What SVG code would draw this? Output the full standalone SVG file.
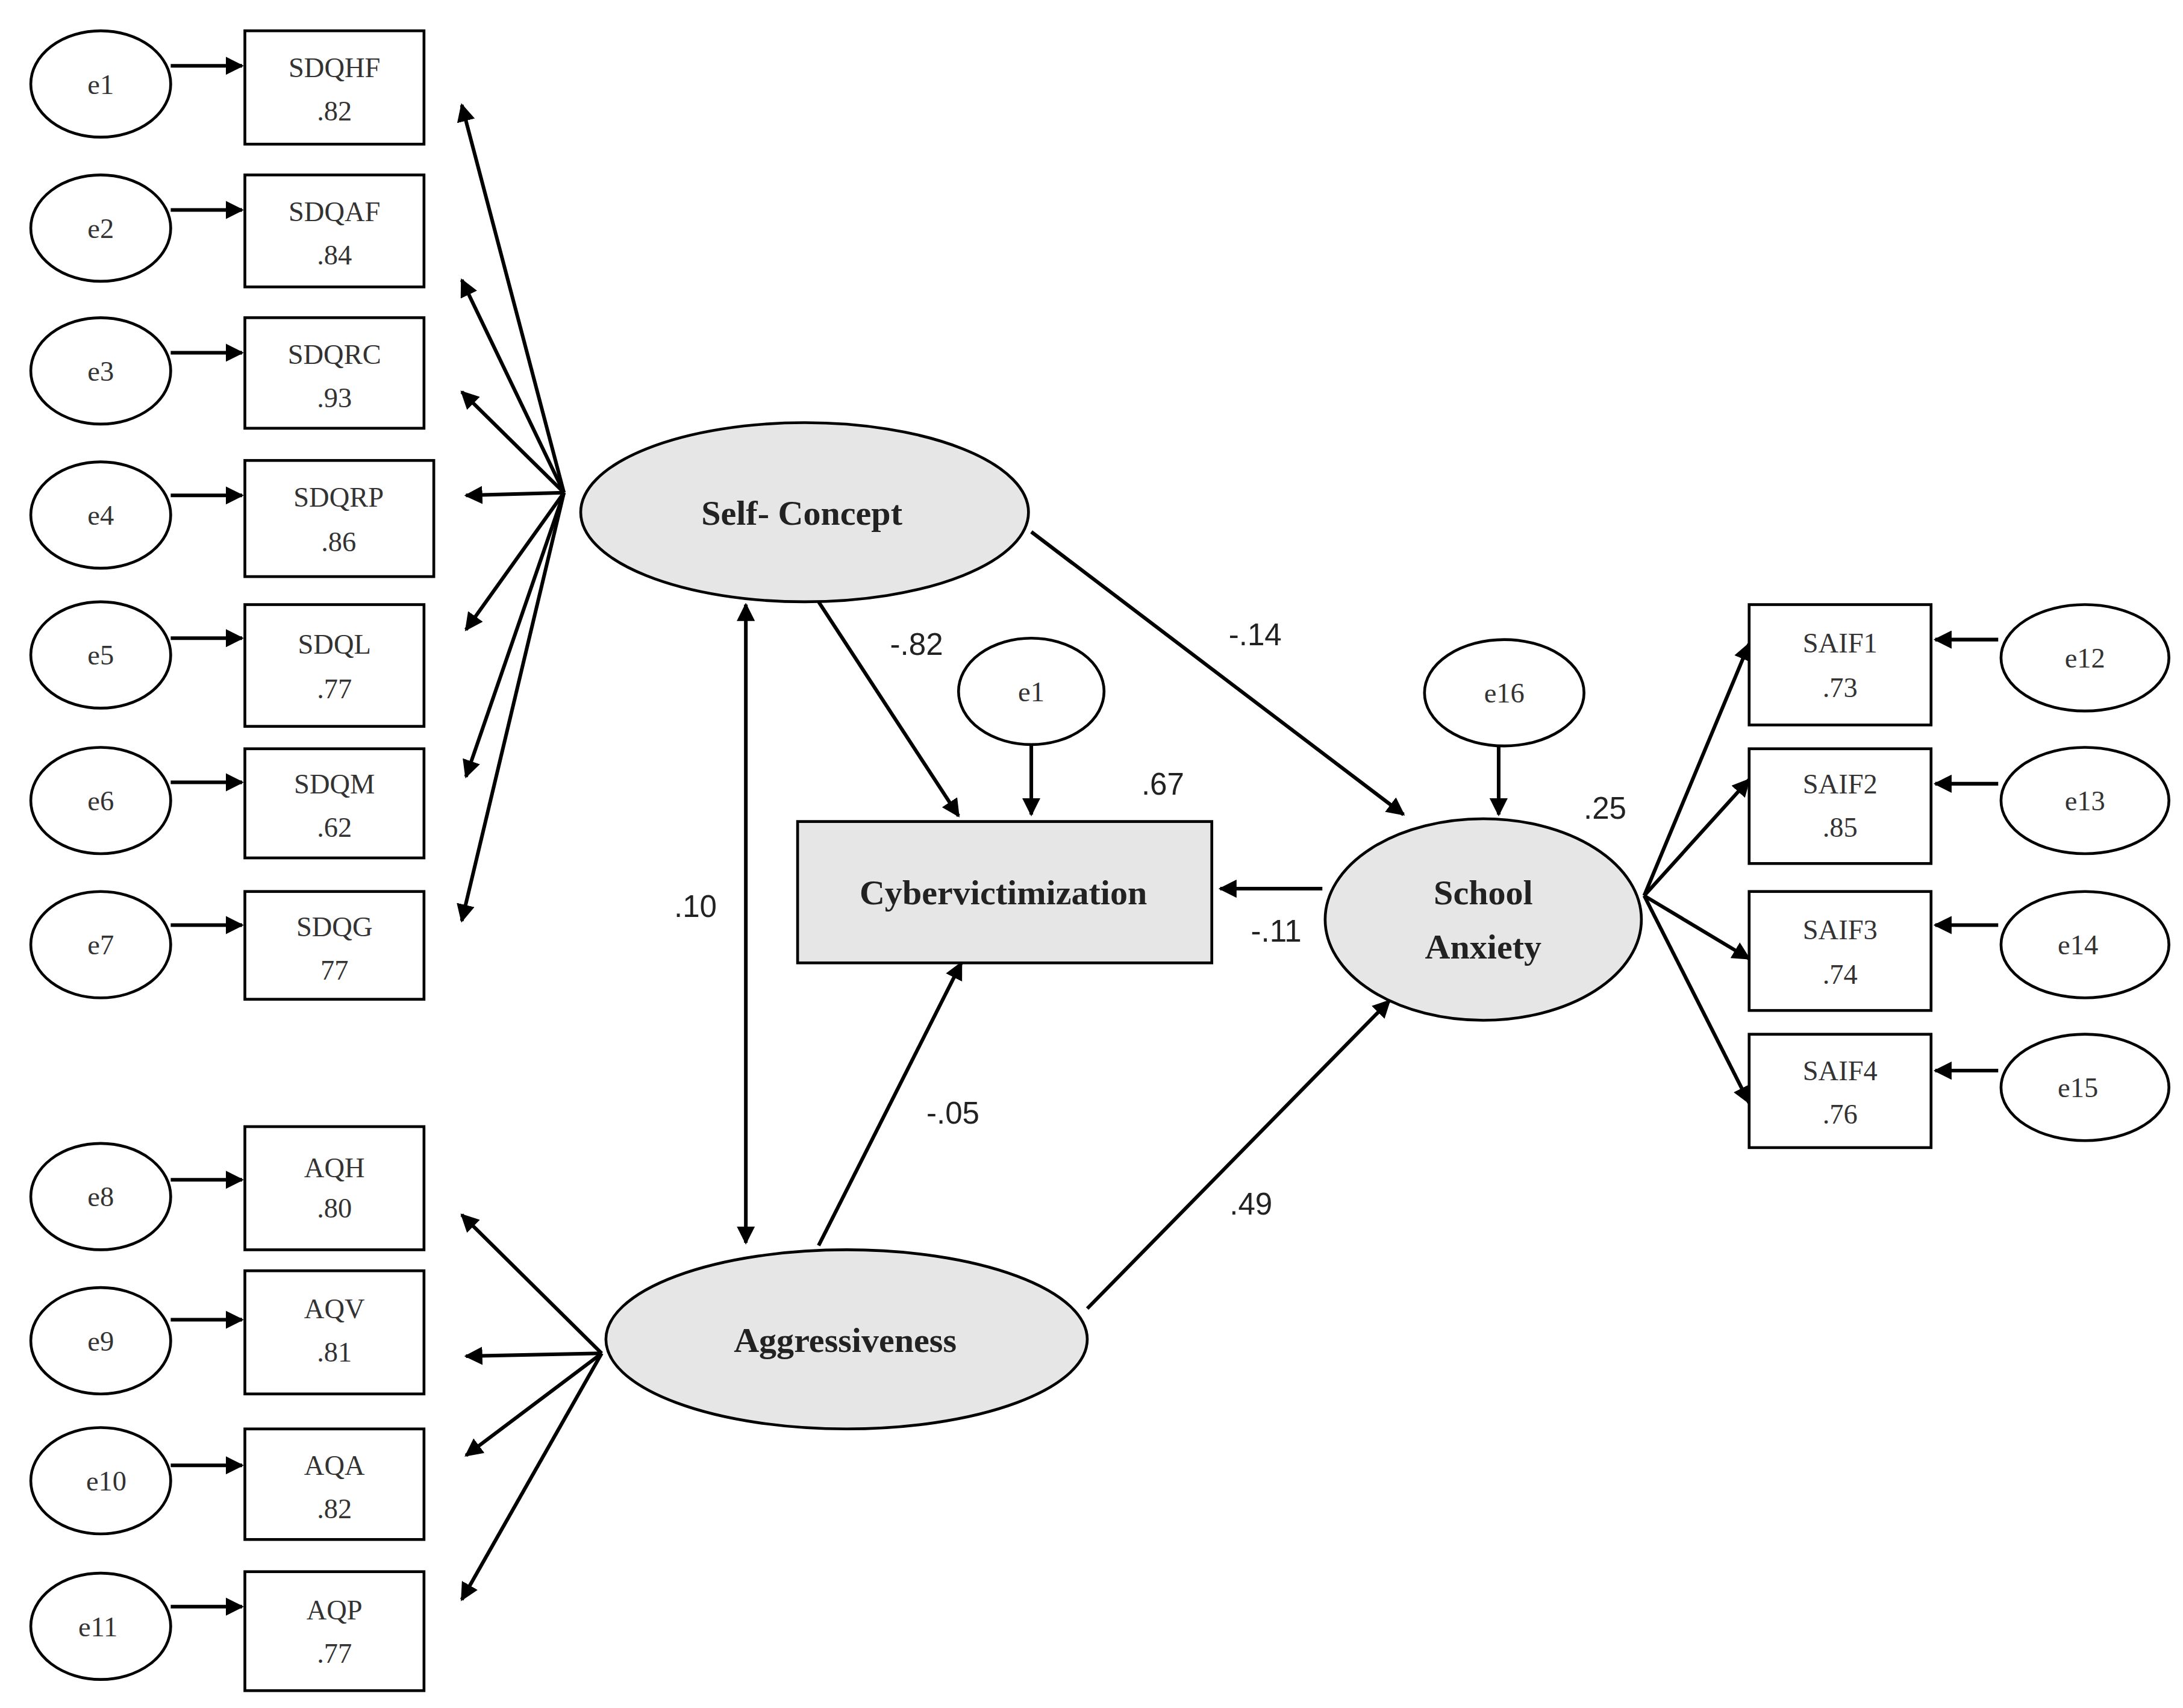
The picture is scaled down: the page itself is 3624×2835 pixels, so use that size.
<svg xmlns="http://www.w3.org/2000/svg" width="3624" height="2835" viewBox="0 0 3624 2835">
<defs>
<marker id="a" viewBox="0 0 10 10" refX="9" refY="5" markerWidth="5" markerHeight="5" orient="auto-start-reverse" markerUnits="strokeWidth"><path d="M0,0 L10,5 L0,10 z" fill="#000"/></marker>
<style>
.e{fill:#fff;stroke:#000;stroke-width:2}
.b{fill:#fff;stroke:#000;stroke-width:2}
.g{fill:#e6e6e6;stroke:#000;stroke-width:2}
.t{font-family:"Liberation Serif",serif;font-size:20px;text-anchor:middle;fill:#333}
.L{font-family:"Liberation Serif",serif;font-size:25px;font-weight:bold;text-anchor:middle;fill:#222}
.n{font-family:"Liberation Sans",sans-serif;font-size:22px;text-anchor:middle;fill:#222}
.c line{stroke:#000;stroke-width:2.6;marker-end:url(#a)}
</style>
</defs>
<rect width="3624" height="2835" fill="#fff"/>
<g transform="scale(2.323)">
<g class="c" id="connectors">
<line x1="122" y1="47" x2="173" y2="47"/><line x1="122" y1="150" x2="173" y2="150"/><line x1="122" y1="252" x2="173" y2="252"/><line x1="122" y1="354" x2="173" y2="354"/><line x1="122" y1="456" x2="173" y2="456"/><line x1="122" y1="559" x2="173" y2="559"/><line x1="122" y1="661" x2="173" y2="661"/>
<line x1="122" y1="843" x2="173" y2="843"/><line x1="122" y1="943" x2="173" y2="943"/><line x1="122" y1="1047" x2="173" y2="1047"/><line x1="122" y1="1148" x2="173" y2="1148"/>
<line x1="403" y1="352" x2="330" y2="75"/><line x1="403" y1="352" x2="330" y2="200"/><line x1="403" y1="352" x2="330" y2="280"/><line x1="403" y1="352" x2="333" y2="354"/><line x1="403" y1="352" x2="333" y2="450"/><line x1="403" y1="352" x2="333" y2="555"/><line x1="403" y1="352" x2="330" y2="658"/>
<line x1="430" y1="967" x2="330" y2="868"/><line x1="430" y1="967" x2="333" y2="969"/><line x1="430" y1="967" x2="333" y2="1040"/><line x1="430" y1="967" x2="330" y2="1143"/>
<line x1="737" y1="532" x2="737" y2="582"/><line x1="1071" y1="533" x2="1071" y2="582"/>
<line x1="1428" y1="457" x2="1383" y2="457"/><line x1="1428" y1="560" x2="1383" y2="560"/><line x1="1428" y1="661" x2="1383" y2="661"/><line x1="1428" y1="765" x2="1383" y2="765"/>
<line x1="1175" y1="640" x2="1250" y2="460"/><line x1="1175" y1="640" x2="1250" y2="557"/><line x1="1175" y1="640" x2="1250" y2="685"/><line x1="1175" y1="640" x2="1250" y2="788"/>
<line x1="585" y1="430" x2="685" y2="583"/><line x1="737" y1="380" x2="1003" y2="582"/><line x1="585" y1="890" x2="687" y2="688"/><line x1="777" y1="935" x2="993" y2="715"/><line x1="945" y1="635" x2="872" y2="635"/>
<line x1="533" y1="432" x2="533" y2="888" style="marker-start:url(#a)"/>
</g>
<g id="errors">
<ellipse class="e" cx="72" cy="60" rx="50" ry="38"/><text class="t" x="72" y="67">e1</text>
<ellipse class="e" cx="72" cy="163" rx="50" ry="38"/><text class="t" x="72" y="170">e2</text>
<ellipse class="e" cx="72" cy="265" rx="50" ry="38"/><text class="t" x="72" y="272">e3</text>
<ellipse class="e" cx="72" cy="368" rx="50" ry="38"/><text class="t" x="72" y="375">e4</text>
<ellipse class="e" cx="72" cy="468" rx="50" ry="38"/><text class="t" x="72" y="475">e5</text>
<ellipse class="e" cx="72" cy="572" rx="50" ry="38"/><text class="t" x="72" y="579">e6</text>
<ellipse class="e" cx="72" cy="675" rx="50" ry="38"/><text class="t" x="72" y="682">e7</text>
<ellipse class="e" cx="72" cy="855" rx="50" ry="38"/><text class="t" x="72" y="862">e8</text>
<ellipse class="e" cx="72" cy="958" rx="50" ry="38"/><text class="t" x="72" y="965">e9</text>
<ellipse class="e" cx="72" cy="1058" rx="50" ry="38"/><text class="t" x="76" y="1065">e10</text>
<ellipse class="e" cx="72" cy="1162" rx="50" ry="38"/><text class="t" x="70" y="1169">e11</text>
<ellipse class="e" cx="737" cy="494" rx="52" ry="38"/><text class="t" x="737" y="501">e1</text>
<ellipse class="e" cx="1075" cy="495" rx="57" ry="38"/><text class="t" x="1075" y="502">e16</text>
<ellipse class="e" cx="1490" cy="470" rx="60" ry="38"/><text class="t" x="1490" y="477">e12</text>
<ellipse class="e" cx="1490" cy="572" rx="60" ry="38"/><text class="t" x="1490" y="579">e13</text>
<ellipse class="e" cx="1490" cy="675" rx="60" ry="38"/><text class="t" x="1485" y="682">e14</text>
<ellipse class="e" cx="1490" cy="777" rx="60" ry="38"/><text class="t" x="1485" y="784">e15</text>
</g>
<g id="indicators">
<rect class="b" x="175" y="22" width="128" height="81"/><text class="t" x="239" y="55">SDQHF</text><text class="t" x="239" y="86">.82</text>
<rect class="b" x="175" y="125" width="128" height="80"/><text class="t" x="239" y="158">SDQAF</text><text class="t" x="239" y="189">.84</text>
<rect class="b" x="175" y="227" width="128" height="79"/><text class="t" x="239" y="260">SDQRC</text><text class="t" x="239" y="291">.93</text>
<rect class="b" x="175" y="329" width="135" height="83"/><text class="t" x="242" y="362">SDQRP</text><text class="t" x="242" y="394">.86</text>
<rect class="b" x="175" y="432" width="128" height="87"/><text class="t" x="239" y="467">SDQL</text><text class="t" x="239" y="499">.77</text>
<rect class="b" x="175" y="535" width="128" height="78"/><text class="t" x="239" y="567">SDQM</text><text class="t" x="239" y="598">.62</text>
<rect class="b" x="175" y="637" width="128" height="77"/><text class="t" x="239" y="669">SDQG</text><text class="t" x="239" y="700">77</text>
<rect class="b" x="175" y="805" width="128" height="88"/><text class="t" x="239" y="841">AQH</text><text class="t" x="239" y="870">.80</text>
<rect class="b" x="175" y="908" width="128" height="88"/><text class="t" x="239" y="942">AQV</text><text class="t" x="239" y="973">.81</text>
<rect class="b" x="175" y="1021" width="128" height="79"/><text class="t" x="239" y="1054">AQA</text><text class="t" x="239" y="1085">.82</text>
<rect class="b" x="175" y="1123" width="128" height="85"/><text class="t" x="239" y="1157">AQP</text><text class="t" x="239" y="1188">.77</text>
<rect class="b" x="1250" y="432" width="130" height="86"/><text class="t" x="1315" y="466">SAIF1</text><text class="t" x="1315" y="498">.73</text>
<rect class="b" x="1250" y="535" width="130" height="82"/><text class="t" x="1315" y="567">SAIF2</text><text class="t" x="1315" y="598">.85</text>
<rect class="b" x="1250" y="637" width="130" height="85"/><text class="t" x="1315" y="671">SAIF3</text><text class="t" x="1315" y="703">.74</text>
<rect class="b" x="1250" y="739" width="130" height="81"/><text class="t" x="1315" y="772">SAIF4</text><text class="t" x="1315" y="803">.76</text>
</g>
<g id="self-concept"><ellipse class="g" cx="575" cy="366" rx="160" ry="64"/><text class="L" x="573" y="375">Self- Concept</text></g>
<g id="aggressiveness"><ellipse class="g" cx="605" cy="957" rx="172" ry="64"/><text class="L" x="604" y="966">Aggressiveness</text></g>
<g id="cybervictimization"><rect class="g" x="570" y="587" width="296" height="101"/><text class="L" x="717" y="646">Cybervictimization</text></g>
<g id="school-anxiety"><ellipse class="g" cx="1060" cy="657" rx="113" ry="72"/><text class="L" x="1060" y="646">School</text><text class="L" x="1060" y="685">Anxiety</text></g>
<g id="labels">
<text class="n" x="655" y="468">-.82</text><text class="n" x="897" y="461">-.14</text><text class="n" x="681" y="803">-.05</text><text class="n" x="894" y="868">.49</text><text class="n" x="912" y="673">-.11</text><text class="n" x="497" y="655">.10</text><text class="n" x="831" y="568">.67</text><text class="n" x="1147" y="585">.25</text>
</g>
</g>
</svg>
